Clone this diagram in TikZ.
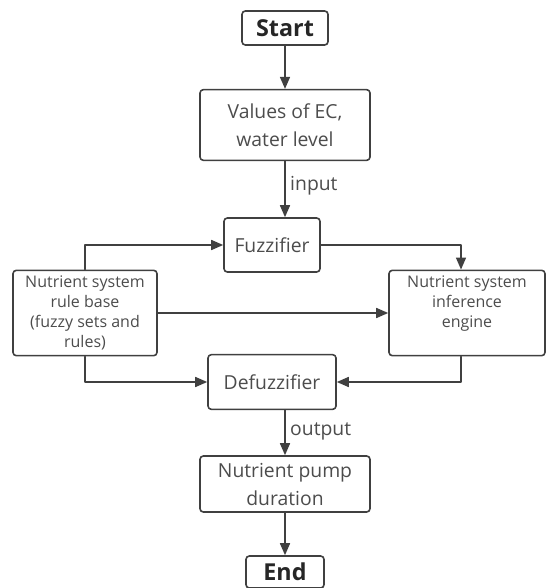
\documentclass[tikz,border=0pt]{standalone}
\usepackage{fontspec}
\setmainfont{Open Sans}
\usetikzlibrary{arrows.meta}
\definecolor{linegray}{rgb}{0.25,0.25,0.25}
\definecolor{textgray}{rgb}{0.30,0.30,0.30}

\begin{document}
\begin{tikzpicture}[x=0.75pt,y=-0.75pt,line cap=round,line join=round,
  >={Triangle[length=9pt,width=7.5pt]},
  conn/.style={draw=linegray,line width=1.2pt,->},
  procbox/.style={draw=linegray,line width=1.2pt,rounded corners=2.5pt,align=center,
    text=textgray,inner sep=2pt,font=\fontsize{14.5}{21}\selectfont},
  smallbox/.style={procbox,font=\fontsize{12}{15}\selectfont},
  termbox/.style={procbox,text=black!85,font=\fontsize{17.5}{20}\selectfont\bfseries},
  lbl/.style={text=textgray,font=\fontsize{14.5}{16}\selectfont}]
\useasboundingbox (0,0) rectangle (547,588);
% boxes
\node [termbox,minimum width=64.5pt,minimum height=25.5pt] (start) at (285,28) {Start};
\node [procbox,minimum width=127.5pt,minimum height=53pt] (values) at (285,125) {Values of EC,\\water level};
\node [procbox,minimum width=72pt,minimum height=40.5pt] (fuzz) at (272,245) {Fuzzifier};
\node [smallbox,minimum width=108pt,minimum height=62pt] (rules) at (85,313)
  {\begin{tabular}{@{}c@{}}Nutrient system\\rule base\\(fuzzy sets and\\rules)\end{tabular}};
\node [smallbox,minimum width=117pt,minimum height=62pt] (infer) at (467,313)
  {\begin{tabular}{@{}c@{}}Nutrient system\\inference\\engine\\\mbox{}\end{tabular}};
\node [procbox,minimum width=96pt,minimum height=41pt] (defuzz) at (272,382) {Defuzzifier};
\node [procbox,minimum width=127.5pt,minimum height=42pt] (pump) at (285,484) {Nutrient pump\\duration};
\node [termbox,minimum width=58.5pt,minimum height=24pt] (end) at (285,572) {End};
% connectors
\draw [conn] (start) -- (values);
\draw [conn] (values.south) -- node[lbl,right,pos=0.43] {input} (values.south |- fuzz.north);
\draw [conn] (rules.north) |- (fuzz.west);
\draw [conn] (fuzz.east) -| ([xshift=-4.5pt]infer.north);
\draw [conn] (rules) -- (infer);
\draw [conn] (rules.south) |- (defuzz.west);
\draw [conn] ([xshift=-4.5pt]infer.south) |- (defuzz.east);
\draw [conn] (pump.north |- defuzz.south) -- node[lbl,right,pos=0.48] {output} (pump.north);
\draw [conn] (pump) -- (end);
\end{tikzpicture}
\end{document}
